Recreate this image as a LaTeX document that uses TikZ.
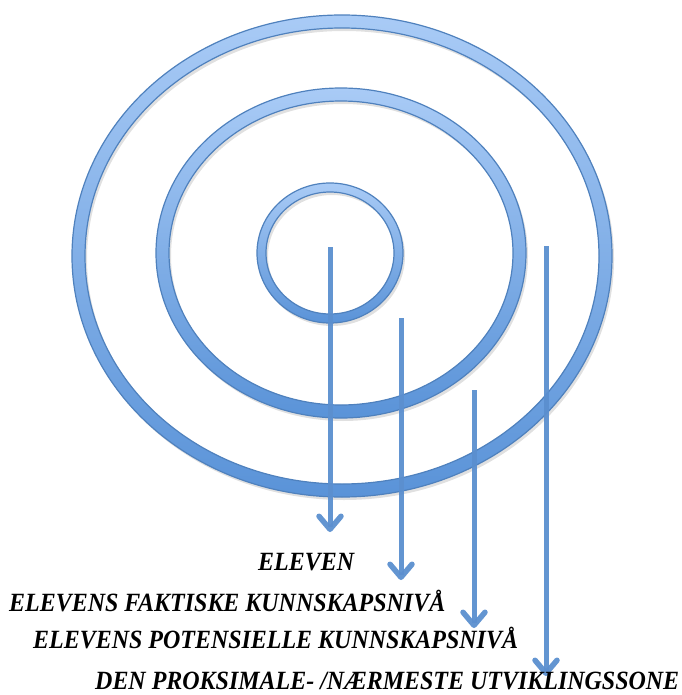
\documentclass[tikz,border=0pt]{standalone}
\usepackage{fontspec}
\setmainfont{Liberation Serif}
\usetikzlibrary{arrows.meta}
\definecolor{ringedge}{HTML}{4F81BD}
\definecolor{ringtop}{HTML}{A9CBF6}
\definecolor{ringbot}{HTML}{5A93D8}
\definecolor{arrowblue}{HTML}{5B8FCF}
\tikzset{
  ring/.style={even odd rule, top color=ringtop, bottom color=ringbot, draw=ringedge, line width=1.2pt},
  ringshadow/.style={even odd rule, fill=black, opacity=0.12},
  pointer/.style={draw=arrowblue, line width=5pt, opacity=0.95,
    -{Straight Barb[length=13pt,width=22pt,line width=5.5pt,round]}},
  label/.style={anchor=base west, inner sep=0pt, font=\fontsize{23.5}{26}\selectfont\bfseries\itshape}
}
\newcommand{\tall}[1]{\scalebox{1.02}[1.12]{#1}}
\begin{document}
\begin{tikzpicture}[x=1pt,y=-1pt]
\useasboundingbox (0,0) rectangle (681,695);
% shadows
\path[ringshadow] (344,259) ellipse [x radius=270, y radius=241] (344,259) ellipse [x radius=257, y radius=228];
\path[ringshadow] (343,256) ellipse [x radius=185, y radius=165] (343,256) ellipse [x radius=172, y radius=152];
\path[ringshadow] (332,256) ellipse [x radius=73, y radius=70] (332,256) ellipse [x radius=64, y radius=61];
% rings
\path[ring] (342,256) ellipse [x radius=270, y radius=241] (342,256) ellipse [x radius=257, y radius=228];
\path[ring] (341,253) ellipse [x radius=185, y radius=165] (341,253) ellipse [x radius=172, y radius=152];
\path[ring] (330,253) ellipse [x radius=73, y radius=70] (330,253) ellipse [x radius=64, y radius=61];
% arrow coordinates
\coordinate (s1) at (330,247); \coordinate (e1) at (330,532);
\coordinate (s2) at (401,318); \coordinate (e2) at (401,580);
\coordinate (s3) at (474,390); \coordinate (e3) at (474,628);
\coordinate (s4) at (546,246); \coordinate (e4) at (546,676);
\draw[pointer] (s1) -- (e1);
\draw[pointer] (s2) -- (e2);
\draw[pointer] (s3) -- (e3);
\draw[pointer] (s4) -- (e4);
% labels
\node[label] (t1) at (258,570) {\tall{ELEVEN}};
\node[label] (t2) at (9,611) {\tall{ELEVENS FAKTISKE KUNNSKAPSNIVÅ}};
\node[label] (t3) at (33,648) {\tall{ELEVENS POTENSIELLE KUNNSKAPSNIVÅ}};
\node[label] (t4) at (95,689) {\tall{DEN PROKSIMALE- /NÆRMESTE UTVIKLINGSSONE}};
\end{tikzpicture}
\end{document}
